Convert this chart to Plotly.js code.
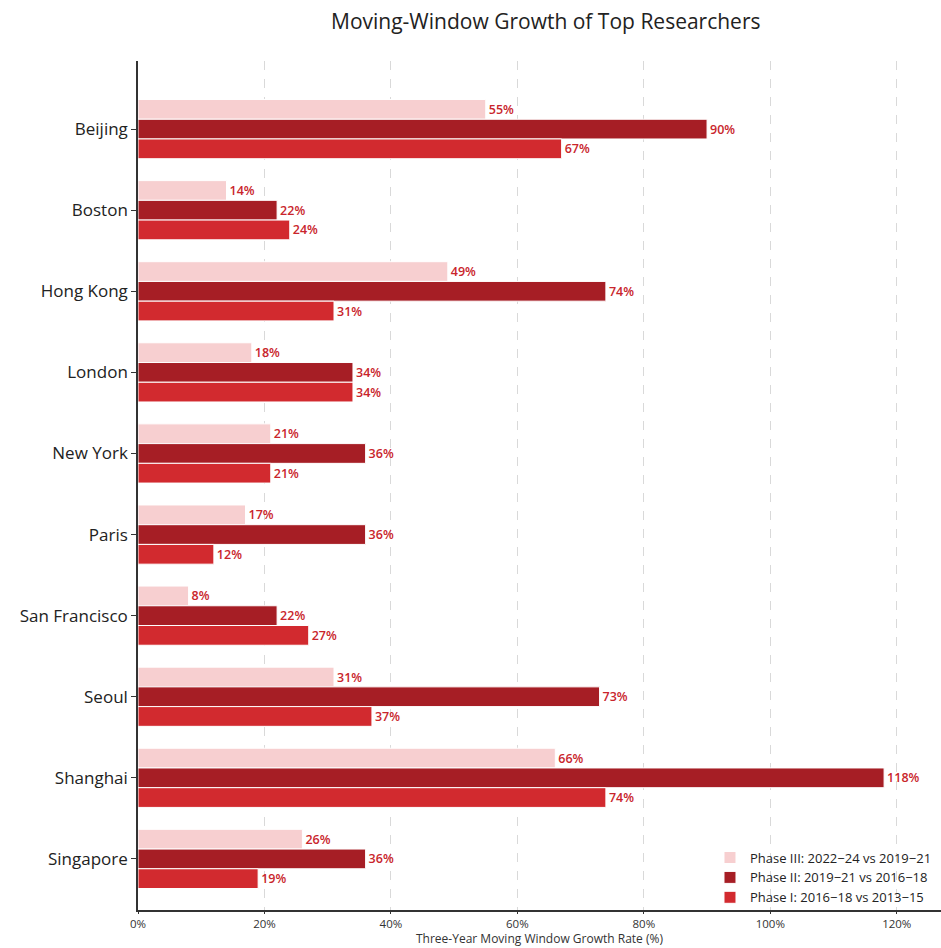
<!DOCTYPE html>
<html>
<head>
<meta charset="utf-8">
<script src="https://cdn.plot.ly/plotly-3.0.1.min.js"></script>
<style>html,body{margin:0;padding:0;background:#fff;}#chart{width:941px;height:948px;}</style>
</head>
<body>
<div id="chart"></div>
<script>
var cities = ["Beijing","Boston","Hong Kong","London","New York","Paris","San Francisco","Seoul","Shanghai","Singapore"];
var phase3 = [55,14,49,18,21,17,8,31,66,26];
var phase2 = [90,22,74,34,36,36,22,73,118,36];
var phase1 = [67,24,31,34,21,12,27,37,74,19];
var seriesNames = ["Phase III: 2022\u221224 vs 2019\u221221","Phase II: 2019\u221221 vs 2016\u221218","Phase I: 2016\u221218 vs 2013\u221215"];
var tickVals = [0,20,40,60,80,100,120];
var tickText = ["0%","20%","40%","60%","80%","100%","120%"];

var colors = ["#f7cfd0","#a61e25","#d22a2f"];
var FONT = "Open Sans, Roboto, sans-serif";
function mk(vals, name, color){
  return {
    type:"bar", orientation:"h", y:cities, x:vals, name:name,
    marker:{color:color, line:{color:"#ffffff", width:1}},
    text: vals.map(function(v){return v+"%";}),
    textposition:"outside", cliponaxis:false,
    textfont:{color:"#c9252c", size:12.5, family:FONT, weight:600},
    hoverinfo:"x+y"
  };
}
var data = [mk(phase3,seriesNames[0],colors[0]), mk(phase2,seriesNames[1],colors[1]), mk(phase1,seriesNames[2],colors[2])];
var layout = {
  width:941, height:948,
  margin:{l:138, r:0, t:61, b:38},
  paper_bgcolor:"#fff", plot_bgcolor:"#fff",
  barmode:"group", bargap:0.27, bargroupgap:0,
  font:{family:FONT, color:"#222"},
  title:{text:"Moving-Window Growth of Top Researchers", font:{size:21, color:"#222", family:FONT}, x:0.58, xanchor:"center", y:0.977, yanchor:"middle"},
  xaxis:{range:[0,127], tickvals:tickVals, ticktext:tickText, showgrid:true, gridcolor:"#d9d9d9", griddash:"dash", gridwidth:1,
    zeroline:false, showline:true, linecolor:"#333", linewidth:1.5, ticks:"outside", ticklen:2, tickcolor:"#333",
    tickfont:{size:11.5, color:"#333"}},
  yaxis:{range:[9.63,-0.84], showgrid:false, zeroline:false, showline:true, linecolor:"#333", linewidth:1.5,
    ticks:"outside", ticklen:5, tickcolor:"#333", tickfont:{size:17, color:"#222"}},
  legend:{x:0.995, xanchor:"right", y:-0.003, yanchor:"bottom", bgcolor:"rgba(255,255,255,0)", font:{size:13, color:"#222"}, traceorder:"normal", tracegroupgap:0},
  annotations:[{text:"Three-Year Moving Window Growth Rate (%)", xref:"paper", yref:"paper", x:0.5, y:0, xanchor:"center", yanchor:"bottom", yshift:-38, borderpad:0, showarrow:false, font:{size:12, color:"#333", family:FONT}}]
};
Plotly.newPlot("chart", data, layout, {displayModeBar:false, responsive:false});
</script>
</body>
</html>
